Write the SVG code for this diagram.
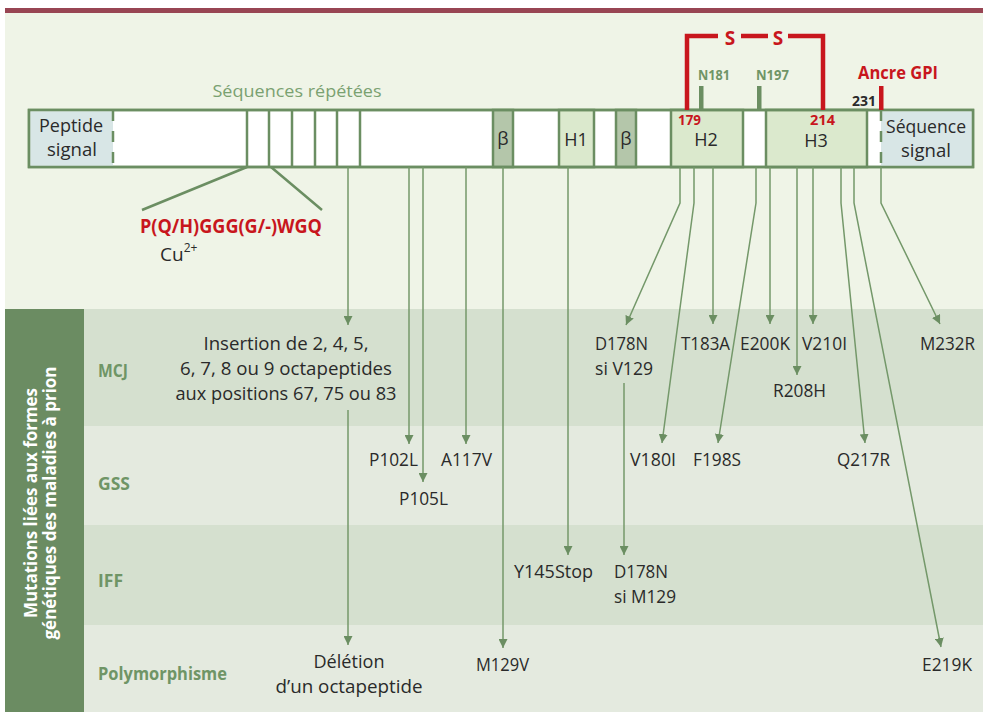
<svg xmlns="http://www.w3.org/2000/svg" width="983" height="712" viewBox="0 0 983 712">
<defs>
<style>
.t{font-family:"Open Sans","Noto Sans","DejaVu Sans",sans-serif;fill:#2a2a2a}
.m{font-size:18px}
.b{font-weight:bold}
.red{fill:#c8161d}
.grn{fill:#6f9566}
.bar{stroke:#6b8e62;stroke-width:2.5}
.sep{stroke:#6b8e62;stroke-width:2.5;fill:none}
.con{stroke:#74986a;stroke-width:1.5;fill:none}
.rep{stroke:#6b8e62;stroke-width:2.5;fill:none}
.ss{stroke:#c8161d;stroke-width:4.5;fill:none}
</style>
<marker id="ah" viewBox="0 0 10 10" refX="10" refY="5" markerWidth="9" markerHeight="9" markerUnits="userSpaceOnUse" orient="auto">
<path d="M0,0 L10,5 L0,10 z" fill="#6b8e62"/>
</marker>
</defs>

<!-- background -->
<rect x="0" y="0" width="983" height="712" fill="#ffffff"/>
<rect x="5" y="13" width="978" height="699" fill="#eff4e7"/>
<rect x="5" y="8" width="978" height="5" fill="#984553"/>

<!-- table rows -->
<g id="table">
<rect x="5" y="309" width="79" height="403" fill="#6b8c62"/>
<rect x="84" y="309" width="899" height="117" fill="#d5e0cf"/>
<rect x="84" y="426" width="899" height="99" fill="#e4eadf"/>
<rect x="84" y="525" width="899" height="100" fill="#d5e0cf"/>
<rect x="84" y="625" width="899" height="87" fill="#e4eadf"/>
<text class="t b" transform="translate(37,503) rotate(-90)" text-anchor="middle" font-size="17" style="fill:#ffffff" textLength="230" lengthAdjust="spacingAndGlyphs">Mutations liées aux formes</text>
<text class="t b" transform="translate(56,503) rotate(-90)" text-anchor="middle" font-size="17" style="fill:#ffffff" textLength="273" lengthAdjust="spacingAndGlyphs">génétiques des maladies à prion</text>
</g>
<g id="row-mcj"><text class="t b grn" x="98" y="377" font-size="17" textLength="30" lengthAdjust="spacingAndGlyphs">MCJ</text></g>
<g id="row-gss"><text class="t b grn" x="98" y="490" font-size="17" textLength="32" lengthAdjust="spacingAndGlyphs">GSS</text></g>
<g id="row-iff"><text class="t b grn" x="98" y="587" font-size="17" textLength="25" lengthAdjust="spacingAndGlyphs">IFF</text></g>
<g id="row-poly"><text class="t b grn" x="98" y="680" font-size="17" textLength="129" lengthAdjust="spacingAndGlyphs">Polymorphisme</text></g>

<!-- protein bar -->
<g id="protein">
<rect class="bar" x="29" y="110" width="944" height="57" fill="#ffffff"/>
<rect x="30.25" y="111.25" width="82.75" height="54.5" fill="#d8e6e6"/>
<rect x="881" y="111.25" width="90.75" height="54.5" fill="#d8e6e6"/>
<rect class="sep" x="493" y="110" width="20" height="57" style="fill:#b4c6aa"/>
<rect class="sep" x="559" y="110" width="35" height="57" style="fill:#dbe9cd"/>
<rect class="sep" x="616" y="110" width="20" height="57" style="fill:#b4c6aa"/>
<rect class="sep" x="671" y="110" width="72" height="57" style="fill:#dbe9cd"/>
<rect class="sep" x="766" y="110" width="101" height="57" style="fill:#dbe9cd"/>
<path class="sep" d="M247,110V167M269,110V167M292,110V167M315,110V167M337,110V167M360,110V167"/>
<line x1="113" y1="110" x2="113" y2="167" stroke="#6b8e62" stroke-width="2.5" stroke-dasharray="11 10"/>
<line x1="881" y1="110" x2="881" y2="167" stroke="#6b8e62" stroke-width="2.5" stroke-dasharray="11 10"/>
<rect class="bar" x="29" y="110" width="944" height="57" fill="none"/>
</g>
<g id="peptide-signal"><text class="t m" x="71" y="132" text-anchor="middle" textLength="64" lengthAdjust="spacingAndGlyphs">Peptide</text><text class="t m" x="72" y="156" text-anchor="middle" textLength="50" lengthAdjust="spacingAndGlyphs">signal</text></g>
<g id="sequence-signal"><text class="t m" x="926" y="133" text-anchor="middle" textLength="80" lengthAdjust="spacingAndGlyphs">Séquence</text><text class="t m" x="926" y="157" text-anchor="middle" textLength="50" lengthAdjust="spacingAndGlyphs">signal</text></g>
<g id="beta1"><text class="t m" x="503" y="145" text-anchor="middle">β</text></g>
<g id="h1"><text class="t m" x="576" y="146" text-anchor="middle">H1</text></g>
<g id="beta2"><text class="t m" x="626" y="145" text-anchor="middle">β</text></g>
<g id="h2"><text class="t m" x="706" y="146" text-anchor="middle">H2</text></g>
<g id="h3"><text class="t m" x="816" y="147" text-anchor="middle">H3</text></g>
<g id="repeats-label"><text class="t" x="297" y="97" font-size="17" text-anchor="middle" style="fill:#7aa171" textLength="169" lengthAdjust="spacingAndGlyphs">Séquences répétées</text></g>

<!-- top annotations -->
<g id="disulfide">
<path class="ss" d="M687,110V36H718M741,36H768M788,36H823V110"/>
<text class="t b red" x="730" y="45" font-size="19" text-anchor="middle">S</text>
<text class="t b red" x="778" y="45" font-size="19" text-anchor="middle">S</text>
</g>
<g id="n181"><rect x="699" y="86" width="4.5" height="24" fill="#6b8e62"/><text class="t b grn" x="698" y="80" font-size="14" textLength="32" lengthAdjust="spacingAndGlyphs">N181</text></g>
<g id="n197"><rect x="757" y="86" width="4.5" height="24" fill="#6b8e62"/><text class="t b grn" x="756" y="80" font-size="14" textLength="33" lengthAdjust="spacingAndGlyphs">N197</text></g>
<g id="gpi"><rect x="879" y="86" width="4.5" height="24" fill="#c8161d"/><text class="t b red" x="858" y="79" font-size="18" textLength="80" lengthAdjust="spacingAndGlyphs">Ancre GPI</text><text class="t b" x="852" y="106" font-size="14" textLength="24" lengthAdjust="spacingAndGlyphs">231</text></g>
<g id="pos179"><text class="t b red" x="678" y="125" font-size="14" textLength="23" lengthAdjust="spacingAndGlyphs">179</text></g>
<g id="pos214"><text class="t b red" x="810" y="125" font-size="14" textLength="25" lengthAdjust="spacingAndGlyphs">214</text></g>
<g id="octarepeat">
<text class="t b red" x="140" y="233" font-size="19" textLength="182" lengthAdjust="spacingAndGlyphs">P(Q/H)GGG(G/-)WGQ</text>
<text class="t" x="160" y="261" font-size="19">Cu<tspan font-size="12" dy="-9">2+</tspan></text>
</g>

<!-- connectors -->
<g id="connectors">
<path class="rep" d="M247,167L142,210M271,167L322,210"/>
<path class="con" marker-end="url(#ah)" d="M348,167V325"/>
<path class="con" marker-end="url(#ah)" d="M348,410V645"/>
<path class="con" marker-end="url(#ah)" d="M409,167V444"/>
<path class="con" marker-end="url(#ah)" d="M423,167V482"/>
<path class="con" marker-end="url(#ah)" d="M466,167V444"/>
<path class="con" marker-end="url(#ah)" d="M503,167V648"/>
<path class="con" marker-end="url(#ah)" d="M568,167V555"/>
<path class="con" marker-end="url(#ah)" d="M680,167V203L626,325"/>
<path class="con" marker-end="url(#ah)" d="M624,383V555"/>
<path class="con" marker-end="url(#ah)" d="M694,167V203L662,443"/>
<path class="con" marker-end="url(#ah)" d="M713,167V324"/>
<path class="con" marker-end="url(#ah)" d="M756,167V203L718,443"/>
<path class="con" marker-end="url(#ah)" d="M770,167V324"/>
<path class="con" marker-end="url(#ah)" d="M797,167V375"/>
<path class="con" marker-end="url(#ah)" d="M813,167V324"/>
<path class="con" marker-end="url(#ah)" d="M841,167V203L865,443"/>
<path class="con" marker-end="url(#ah)" d="M854,167V203L941,647"/>
<path class="con" marker-end="url(#ah)" d="M881,167V203L940,324"/>
</g>

<!-- mutation labels -->
<g id="insertion" class="t m" text-anchor="middle">
<text x="286" y="350" textLength="165" lengthAdjust="spacingAndGlyphs">Insertion de 2, 4, 5,</text>
<text x="286" y="375" textLength="212" lengthAdjust="spacingAndGlyphs">6, 7, 8 ou 9 octapeptides</text>
<text x="286" y="400" textLength="221" lengthAdjust="spacingAndGlyphs">aux positions 67, 75 ou 83</text>
</g>
<g id="deletion" class="t m" text-anchor="middle">
<text x="349" y="668" textLength="71" lengthAdjust="spacingAndGlyphs">Délétion</text>
<text x="349" y="693" textLength="147" lengthAdjust="spacingAndGlyphs">d’un octapeptide</text>
</g>
<g id="p102l"><text class="t m" x="369" y="466" textLength="49" lengthAdjust="spacingAndGlyphs">P102L</text></g>
<g id="p105l"><text class="t m" x="399" y="505" textLength="49" lengthAdjust="spacingAndGlyphs">P105L</text></g>
<g id="a117v"><text class="t m" x="441" y="466" textLength="51" lengthAdjust="spacingAndGlyphs">A117V</text></g>
<g id="m129v"><text class="t m" x="476" y="671" textLength="53" lengthAdjust="spacingAndGlyphs">M129V</text></g>
<g id="y145stop"><text class="t m" x="514" y="578" textLength="79" lengthAdjust="spacingAndGlyphs">Y145Stop</text></g>
<g id="d178n-v129"><text class="t m" x="595" y="350" textLength="53" lengthAdjust="spacingAndGlyphs">D178N</text><text class="t m" x="595" y="375" textLength="58" lengthAdjust="spacingAndGlyphs">si V129</text></g>
<g id="d178n-m129"><text class="t m" x="614" y="578" textLength="54" lengthAdjust="spacingAndGlyphs">D178N</text><text class="t m" x="614" y="603" textLength="62" lengthAdjust="spacingAndGlyphs">si M129</text></g>
<g id="v180i"><text class="t m" x="630" y="466" textLength="46" lengthAdjust="spacingAndGlyphs">V180I</text></g>
<g id="t183a"><text class="t m" x="681" y="350" textLength="49" lengthAdjust="spacingAndGlyphs">T183A</text></g>
<g id="f198s"><text class="t m" x="693" y="466" textLength="48" lengthAdjust="spacingAndGlyphs">F198S</text></g>
<g id="e200k"><text class="t m" x="740" y="350" textLength="50" lengthAdjust="spacingAndGlyphs">E200K</text></g>
<g id="r208h"><text class="t m" x="773" y="397" textLength="53" lengthAdjust="spacingAndGlyphs">R208H</text></g>
<g id="v210i"><text class="t m" x="802" y="350" textLength="45" lengthAdjust="spacingAndGlyphs">V210I</text></g>
<g id="q217r"><text class="t m" x="837" y="466" textLength="53" lengthAdjust="spacingAndGlyphs">Q217R</text></g>
<g id="e219k"><text class="t m" x="922" y="671" textLength="50" lengthAdjust="spacingAndGlyphs">E219K</text></g>
<g id="m232r"><text class="t m" x="920" y="350" textLength="55" lengthAdjust="spacingAndGlyphs">M232R</text></g>
</svg>
